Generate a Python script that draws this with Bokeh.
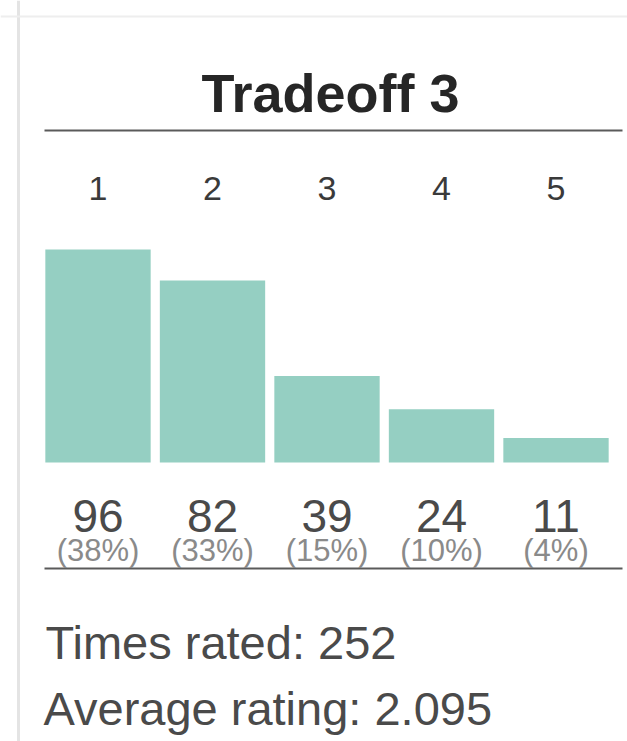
from bokeh.plotting import figure
from bokeh.models import Range1d, Span
from bokeh.core.properties import value
from bokeh.embed import file_html
from bokeh.resources import INLINE

# ---- data ----
title_text = "Tradeoff 3"
ratings = [1, 2, 3, 4, 5]
counts = [96, 82, 39, 24, 11]
pct_labels = ["(38%)", "(33%)", "(15%)", "(10%)", "(4%)"]
times_rated = 252
average_rating = "2.095"

# ---- layout helpers (picture pixel -> data coords) ----
OFF = 0
W, H = 627, 741
PPX = 114.5          # pixels per rating step
X0 = 1 - (97.5 - OFF) / PPX
PPY = 2.22           # pixels per count unit
BASE = 462 - OFF     # baseline pixel from top of canvas
Y_TOP = BASE / PPY
Y_BOT = -(H - BASE) / PPY


def xd(px):
    return X0 + (px - OFF) / PPX


def yd(py):
    return Y_TOP - (py - OFF) / PPY


FONT = value("Liberation Sans")

p = figure(width=W, height=H, output_backend="svg", toolbar_location=None,
           x_range=Range1d(X0, X0 + W / PPX), y_range=Range1d(Y_BOT, Y_TOP),
           min_border=0, min_border_left=0, min_border_right=0,
           min_border_top=0, min_border_bottom=0)
p.axis.visible = False
p.grid.visible = False
p.outline_line_color = None
p.background_fill_color = "white"
p.border_fill_color = "white"

# card borders
p.add_layout(Span(location=xd(18), dimension="height", line_color="#e4e4e4", line_width=3))
p.add_layout(Span(location=yd(16), dimension="width", line_color="#eeeeee", line_width=2))

# title
p.text(x=[xd(330)], y=[yd(92)], text=[title_text], text_font=FONT,
       text_font_style="bold", text_font_size="54px", text_color="#262626",
       text_align="center", text_baseline="alphabetic")

# rule lines
p.line(x=[xd(44), xd(622)], y=[yd(130), yd(130)], line_color="#5a5a5a", line_width=2)
p.line(x=[xd(44), xd(622)], y=[yd(568), yd(568)], line_color="#5a5a5a", line_width=2)

# category labels
p.text(x=ratings, y=[yd(188)] * len(ratings), text=[str(r) for r in ratings],
       text_font=FONT, text_font_size="34px", text_color="#3a3a3a",
       text_align="center", text_baseline="alphabetic")

# bars
p.vbar(x=ratings, top=counts, bottom=0, width=0.92, fill_color="#95cfc2",
       line_color=None)

# counts & percentages
p.text(x=ratings, y=[yd(515)] * len(ratings), text=[str(c) for c in counts],
       text_font=FONT, text_font_size="46px", text_color="#4a4a4a",
       text_align="center", text_baseline="alphabetic")
p.text(x=ratings, y=[yd(550)] * len(ratings), text=pct_labels,
       text_font=FONT, text_font_size="31px", text_color="#8a8a8a",
       text_align="center", text_baseline="alphabetic")

# footer
p.text(x=[xd(45)], y=[yd(642)], text=[f"Times rated: {times_rated}"],
       text_font=FONT, text_font_size="47px", text_color="#4a4a4a",
       text_align="left", text_baseline="alphabetic")
p.text(x=[xd(43)], y=[yd(708)], text=[f"Average rating: {average_rating}"],
       text_font=FONT, text_font_size="47px", text_color="#4a4a4a",
       text_align="left", text_baseline="alphabetic")

open("out.html", "w").write(file_html(p, INLINE))
